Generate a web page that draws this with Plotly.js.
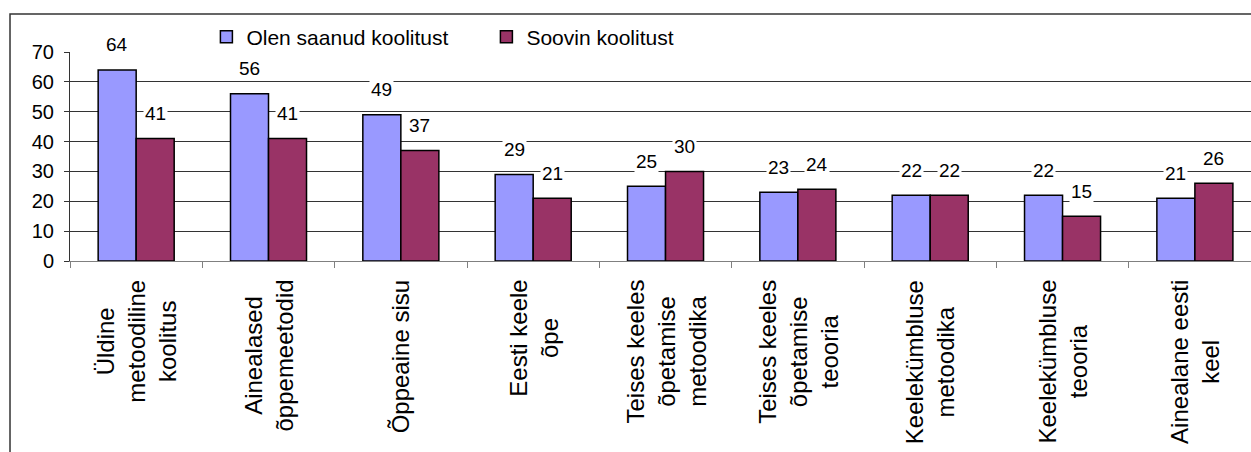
<!DOCTYPE html>
<html>
<head>
<meta charset="utf-8">
<script src="https://cdn.plot.ly/plotly-3.0.1.min.js"></script>
<style>html,body{margin:0;padding:0;background:#fff;}#chart{width:1251px;height:452px;}</style>
</head>
<body>
<div id="chart"></div>
<script>
var categories = [
  "Üldine<br>metoodiline<br>koolitus",
  "Ainealased<br>õppemeetodid",
  "Õppeaine sisu",
  "Eesti keele<br>õpe",
  "Teises keeles<br>õpetamise<br>metoodika",
  "Teises keeles<br>õpetamise<br>teooria",
  "Keelekümbluse<br>metoodika",
  "Keelekümbluse<br>teooria",
  "Ainealane eesti<br>keel"
];
var seriesNames = ["Olen saanud koolitust", "Soovin koolitust"];
var received = [64, 56, 49, 29, 25, 23, 22, 22, 21];
var wanted = [41, 41, 37, 21, 30, 24, 22, 15, 26];
var yTicks = [0, 10, 20, 30, 40, 50, 60, 70];

var FONT = "Liberation Sans, Arial, sans-serif";
var colors = ["#9999FF", "#993366"];

var traces = [received, wanted].map(function (vals, i) {
  return {
    type: "bar",
    name: seriesNames[i],
    x: categories,
    y: vals,
    marker: {color: colors[i], line: {color: "#000", width: 1.5}},
    hoverinfo: "skip"
  };
});

var annotations = [];
// value labels above the bars
[received, wanted].forEach(function (vals, i) {
  vals.forEach(function (v, j) {
    annotations.push({
      x: categories[j], y: v, xref: "x", yref: "y",
      text: String(v), showarrow: false,
      xshift: i === 0 ? -19 : 19, yshift: 25,
      bgcolor: "#fff", borderpad: 1,
      font: {family: FONT, size: 19, color: "#000"}
    });
  });
});
// category labels (rotated, lines centred)
categories.forEach(function (c) {
  annotations.push({
    x: c, y: 0, xref: "x", yref: "paper",
    text: c, showarrow: false, textangle: -90,
    xanchor: "center", yanchor: "top", align: "center",
    yshift: -17,
    font: {family: FONT, size: 24, color: "#000"}
  });
});

var layout = {
  width: 1251, height: 452,
  margin: {l: 70, r: 0, t: 52, b: 191},
  paper_bgcolor: "#fff", plot_bgcolor: "#fff",
  barmode: "group", bargap: 0.4255, bargroupgap: 0,
  font: {family: FONT, size: 19, color: "#000"},
  showlegend: true,
  legend: {
    orientation: "h", x: 0.1155, xanchor: "left", y: 1.169, yanchor: "top",
    bgcolor: "#fff", font: {family: FONT, size: 21, color: "#000"},
    entrywidth: 235, traceorder: "normal"
  },
  xaxis: {
    type: "category", range: [-0.5, 8.424],
    tickson: "boundaries", ticks: "outside", ticklen: 6,
    tickcolor: "#808080", showline: true, linecolor: "#808080", linewidth: 1,
    showgrid: false, zeroline: false, showticklabels: false, fixedrange: true
  },
  yaxis: {
    range: [0, 70], tickvals: yTicks, ticktext: yTicks.map(String),
    ticks: "outside", ticklen: 5, tickcolor: "#333",
    showline: true, linecolor: "#333", linewidth: 1,
    showgrid: true, gridcolor: "#333", gridwidth: 1, zeroline: false,
    ticklabelstandoff: 6,
    tickfont: {family: FONT, size: 20, color: "#000"}, fixedrange: true
  },
  annotations: annotations,
  shapes: [{
    type: "path", xref: "paper", yref: "paper",
    path: "M -0.0508,-0.95 L -0.0508,1.1818 L 1.01,1.1818",
    line: {color: "#333", width: 1.5}, layer: "above"
  }]
};

Plotly.newPlot("chart", traces, layout, {staticPlot: true, displayModeBar: false});
</script>
</body>
</html>
